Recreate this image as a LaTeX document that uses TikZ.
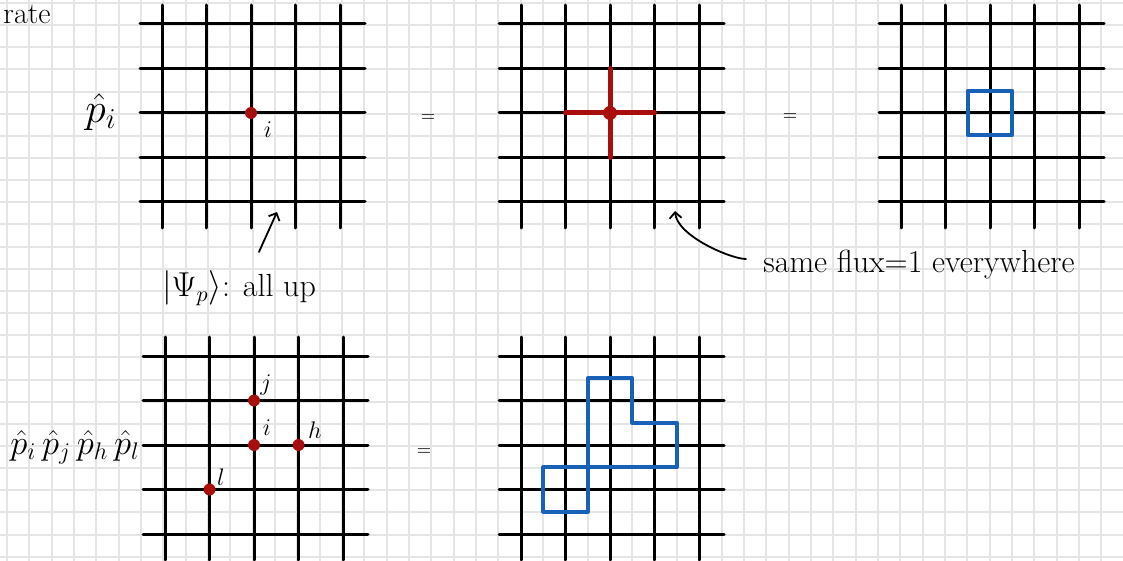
\documentclass[tikz,border=0pt]{standalone}
\usetikzlibrary{arrows.meta}
\definecolor{sitered}{RGB}{168,14,14}
\definecolor{loopblue}{RGB}{24,96,184}
\definecolor{paper}{RGB}{229,229,229}
% one 5x5 patch of the lattice, centred on (#1,#2)
\newcommand{\lattice}[2]{%
  \begin{scope}[shift={(#1,#2)}]
    \foreach \k in {-2,...,2} {
      \draw[latt] (-111,{\k*44.5}) -- (114,{\k*44.5});
      \draw[latt] ({\k*44.5},-108) -- ({\k*44.5},115);
    }
  \end{scope}}
\begin{document}
\begin{tikzpicture}[
      x=0.5pt, y=-0.5pt,
      latt/.style={line width=1.5pt, line cap=round},
      paperline/.style={draw=paper, line width=1pt},
      site/.style={circle, fill=sitered, inner sep=0pt, minimum size=6pt},
      vlab/.style={font=\fontsize{12}{14}\selectfont, inner sep=0pt},
      hand/.style={font=\fontsize{16}{19}\selectfont, inner sep=1pt},
      oplab/.style={font=\fontsize{20}{24}\selectfont, inner sep=0pt},
      eq/.style={font=\fontsize{9}{11}\selectfont, inner sep=0pt},
      fluxline/.style={draw=sitered, line width=2.5pt, line cap=round},
      bluepath/.style={draw=loopblue, line width=2pt, line join=round},
      pointer/.style={-{Straight Barb[length=3pt,width=6pt]}, line width=0.9pt, line cap=round}
    ]
      \useasboundingbox (0,0) rectangle (1123,561);
      \fill[white] (0,0) rectangle (1123,561);
      % graph paper
      \foreach \gx in {0,...,50} \draw[paperline] ({7+22.33*\gx},0) -- ++(0,561);
      \foreach \gy in {0,...,25} \draw[paperline] (0,{3+22.15*\gy}) -- ++(1123,0);

      \node[hand, font=\fontsize{15}{18}\selectfont] (rate) at (27,14) {rate};

      % top row
      \lattice{251}{113}
      \lattice{610}{113}
      \lattice{990}{113}
      \node[oplab] (pi) at (101,112) {$\hat p_i$};
      \node[site] (si) at (251,113) {};
      \node[vlab] (lsi) at (268,130) {$i$};
      \node[eq] (eq1) at (428,118) {=};
      \node[site, minimum size=7pt] (ci) at (610,113) {};
      \draw[fluxline] (ci.center) ++(-44.5,0) -- ++(89,0);
      \draw[fluxline] (ci.center) ++(0,-44.5) -- ++(0,89);
      \node[eq] (eq2) at (790,117) {=};
      \draw[bluepath] (967.75,90.75) rectangle (1012.25,135.25);

      \node[hand] (psi) at (239,288) {$|\Psi_p\rangle$: all up};
      \coordinate (psitip) at (277,212);
      \draw[pointer] ([xshift=10pt,yshift=8pt]psi.north) -- (psitip);
      \node[hand] (flux) at (919,265) {same flux=1 everywhere};
      \coordinate (fluxtip) at (675,211);
      \draw[pointer] ([xshift=-7.5pt,yshift=3pt]flux.west) .. controls +(-15,0) and +(2,25) .. (fluxtip);

      % bottom row
      \lattice{254}{445}
      \lattice{610}{445}
      \node[oplab, font=\fontsize{17}{21}\selectfont] (pijhl) at (75,447) {$\hat p_i\,\hat p_j\,\hat p_h\,\hat p_l$};
      \node[site] (sj) at (254,400.5) {};
      \node[site] (sii) at (254,445) {};
      \node[site] (sh) at (298.5,445) {};
      \node[site] (sl) at (209.5,489.5) {};
      \node[vlab] (lsj) at (266,385) {$j$};
      \node[vlab] (lsii) at (267,428) {$i$};
      \node[vlab] (lsh) at (315,430) {$h$};
      \node[vlab] (lsl) at (221,477) {$l$};
      \node[eq] (eq3) at (424,452) {=};
      \draw[bluepath] (587.75,378.25) -- (632.25,378.25) -- (632.25,422.75) -- (676.75,422.75)
        -- (676.75,467.25) -- (587.75,467.25) -- cycle;
      \draw[bluepath] (543.25,467.25) rectangle (587.75,511.75);
    \end{tikzpicture}
\end{document}
